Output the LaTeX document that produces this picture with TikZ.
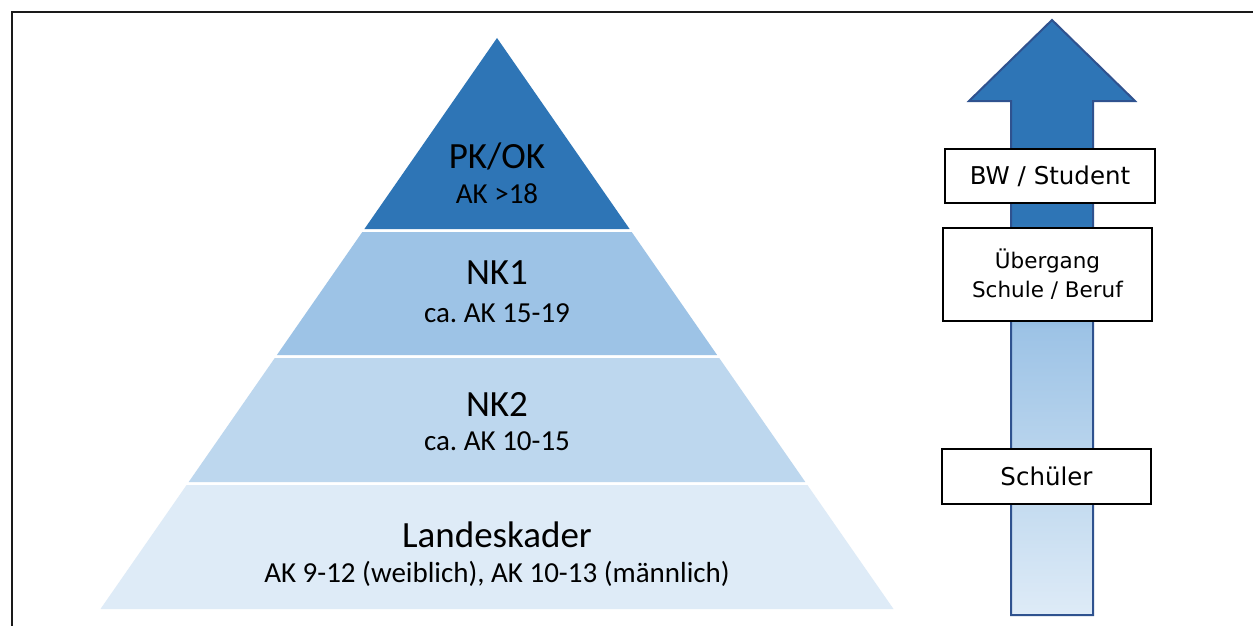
\documentclass[tikz,border=0pt]{standalone}
\usepackage{fontspec}
\setmainfont{Carlito}
\newfontfamily\boxfont{DejaVu Sans}
\frenchspacing
\definecolor{tierA}{HTML}{2E75B6}
\definecolor{tierB}{HTML}{9DC3E6}
\definecolor{tierC}{HTML}{BDD7EE}
\definecolor{tierD}{HTML}{DEEBF7}
\definecolor{arrowline}{HTML}{2F528F}
\definecolor{framecol}{HTML}{1A1A1A}
\pgfdeclareverticalshading{arrowshade}{100bp}{color(0bp)=(tierD); color(25bp)=(tierD); color(37bp)=(tierC); color(49bp)=(tierB); color(58bp)=(tierA); color(75bp)=(tierA); color(100bp)=(tierA)}
\begin{document}
\begin{tikzpicture}[x=1pt,y=-1pt,
  titletext/.style={font=\fontsize{37}{44}\selectfont, anchor=base, inner sep=0pt, text=black},
  subtext/.style={font=\fontsize{29}{34}\selectfont, anchor=base, inner sep=0pt, text=black},
  stagebox/.style={draw=black, line width=1.8pt, fill=white, align=center, inner sep=0pt, font=\boxfont\fontsize{24.5}{29}\selectfont},
]
\useasboundingbox (0,0) rectangle (1253,626);
\fill[white] (0,0) rectangle (1253,626);
% frame
\draw[framecol, line width=2.2pt] (12,626) -- (12,12) -- (1253,12);
% pyramid tiers
\fill[tierA] (497,38) -- (629.6,229) -- (364.4,229) -- cycle;
\fill[tierB] (362.3,232) -- (631.7,232) -- (717.1,355) -- (276.9,355) -- cycle;
\fill[tierC] (274.8,358) -- (719.2,358) -- (805.3,482) -- (188.7,482) -- cycle;
\fill[tierD] (186.6,485) -- (807.4,485) -- (893.5,609) -- (100.5,609) -- cycle;
% pyramid labels
\node[titletext] (pk) at (497,168) {PK/OK};
\node[subtext] (pka) at (497,203) {AK >18};
\node[titletext] (nk1) at (497,284) {NK1};
\node[subtext] (nk1a) at (497,322) {ca. AK 15-19};
\node[titletext] (nk2) at (497,416) {NK2};
\node[subtext] (nk2a) at (497,450) {ca. AK 10-15};
\node[titletext] (lk) at (497,547) {Landeskader};
\node[subtext] (lka) at (497,582) {AK 9-12 (weiblich), AK 10-13 (männlich)};
% arrow
\shade[shading=arrowshade] (1052,20) -- (1135,101) -- (1093,101) -- (1093,615) -- (1011,615) -- (1011,101) -- (969,101) -- cycle;
\draw[arrowline, line width=2pt, line join=miter] (1052,20) -- (1135,101) -- (1093,101) -- (1093,615) -- (1011,615) -- (1011,101) -- (969,101) -- cycle;
% boxes
\node[stagebox, minimum width=210pt, minimum height=54pt] (bw) at (1050,176) {BW / Student};
\node[stagebox, minimum width=209pt, minimum height=93pt, font=\boxfont\fontsize{21.5}{29}\selectfont] (ub) at (1047.5,274.5) {Übergang\\Schule / Beruf};
\node[stagebox, minimum width=209pt, minimum height=55pt] (sch) at (1046.5,476.5) {Schüler};
\end{tikzpicture}
\end{document}
